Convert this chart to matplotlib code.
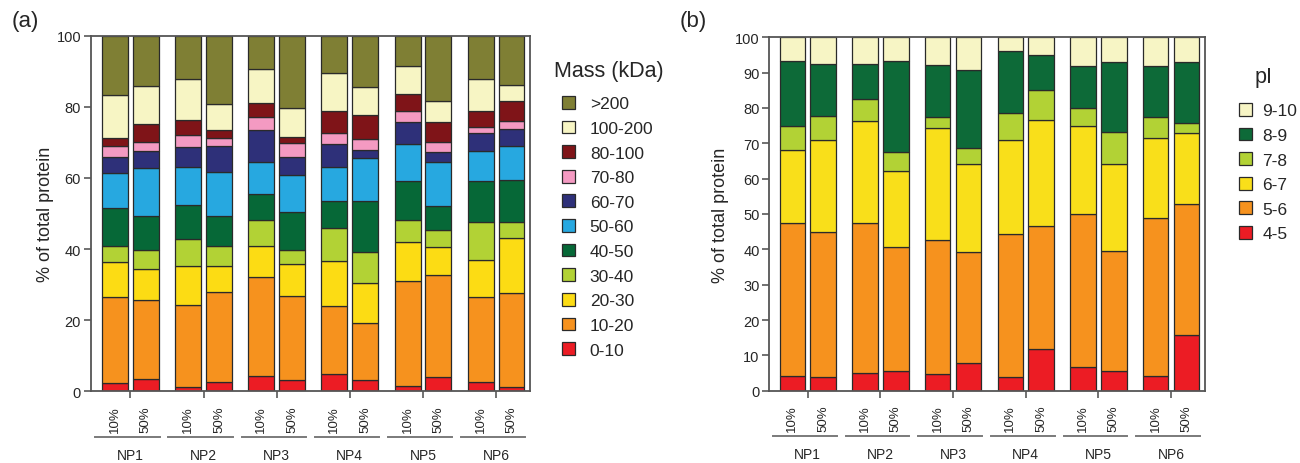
import numpy as np
import matplotlib
matplotlib.use("Agg")
import matplotlib.pyplot as plt
import matplotlib.transforms as mtransforms

plt.rcParams['font.family'] = ['Liberation Sans', 'DejaVu Sans']
txt_col = '#262626'

## DATA
samples = ['NP1', 'NP2', 'NP3', 'NP4', 'NP5', 'NP6']
conc = ['10%', '50%']

# (a) mass fractions, 12 bars: NP1 10%, NP1 50%, NP2 10%, ...
mass_bins = ['0-10', '10-20', '20-30', '30-40', '40-50', '50-60',
             '60-70', '70-80', '80-100', '100-200', '>200']
m_0_10 = [2.2, 3.5, 1.3, 2.7, 4.4, 3.2, 4.9, 3.2, 1.6, 3.9, 2.5, 1.3]
m_10_20 = [24.2, 22.2, 23.1, 25.2, 27.8, 23.7, 19.2, 16.0, 29.5, 28.7, 23.9, 26.3]
m_20_30 = [9.9, 8.7, 10.9, 7.2, 8.8, 8.8, 12.5, 11.2, 11.0, 8.0, 10.5, 15.4]
m_30_40 = [4.6, 5.4, 7.5, 5.9, 7.3, 3.9, 9.3, 8.7, 6.2, 4.9, 10.6, 4.7]
m_40_50 = [10.6, 9.6, 9.6, 8.2, 7.3, 10.7, 7.5, 14.3, 10.9, 6.5, 11.7, 11.6]
m_50_60 = [9.9, 13.3, 10.8, 12.6, 8.8, 10.6, 9.8, 12.2, 10.3, 12.6, 8.5, 9.8]
m_60_70 = [4.5, 4.9, 5.6, 7.3, 9.0, 4.9, 6.3, 2.3, 6.3, 2.6, 4.9, 4.8]
m_70_80 = [3.1, 2.5, 3.2, 2.2, 3.8, 3.9, 3.0, 3.1, 2.9, 3.0, 1.8, 2.1]
m_80_100 = [2.2, 5.0, 4.3, 2.3, 4.0, 1.9, 6.3, 6.6, 4.9, 5.6, 4.5, 5.6]
m_100_200 = [12.1, 10.7, 11.4, 7.2, 9.4, 8.2, 10.7, 8.0, 8.0, 5.7, 8.9, 4.5]
m_200 = [16.7, 14.2, 12.3, 19.2, 9.4, 20.2, 10.5, 14.4, 8.4, 18.5, 12.2, 13.9]
mass_vals = [m_0_10, m_10_20, m_20_30, m_30_40, m_40_50, m_50_60,
             m_60_70, m_70_80, m_80_100, m_100_200, m_200]
mass_cols = ['#ec1c24', '#f6921e', '#fcdc14', '#b2d235', '#066837', '#27a8e0',
             '#2e3079', '#f49ac2', '#7f1418', '#f7f5c4', '#7f7f34']

# (b) pI fractions
pi_bins = ['4-5', '5-6', '6-7', '7-8', '8-9', '9-10']
p_4_5 = [4.2, 4.0, 5.0, 5.5, 4.6, 7.9, 4.0, 11.8, 6.8, 5.5, 4.2, 15.8]
p_5_6 = [43.2, 40.8, 42.5, 35.1, 38.1, 31.3, 40.3, 34.9, 43.2, 33.9, 44.8, 37.1]
p_6_7 = [20.7, 26.2, 28.8, 21.7, 31.5, 25.0, 26.6, 30.0, 25.0, 24.8, 22.4, 19.9]
p_7_8 = [6.9, 6.6, 6.3, 5.2, 3.3, 4.5, 7.6, 8.4, 5.0, 8.9, 6.1, 2.9]
p_8_9 = [18.3, 14.7, 9.9, 25.9, 14.7, 22.1, 17.7, 10.0, 11.8, 19.8, 14.4, 17.2]
p_9_10 = [6.7, 7.7, 7.5, 6.6, 7.8, 9.2, 3.8, 4.9, 8.2, 7.1, 8.1, 7.1]
pi_vals = [p_4_5, p_5_6, p_6_7, p_7_8, p_8_9, p_9_10]
pi_cols = ['#ec1c24', '#f6921e', '#f9df1a', '#b2d235', '#0d6a38', '#f7f5c5']


def stacked_panel(ax, vals, cols, names, yticks, xlim, off, width, lbpad):
    groups = np.arange(len(samples))
    xpos = np.concatenate([[g - off, g + off] for g in groups])
    bottom = np.zeros(len(xpos))
    handles = []
    for v, c, n in zip(vals, cols, names):
        b = ax.bar(xpos, v, width, bottom=bottom, color=c, edgecolor='#2a2a2a',
                   linewidth=0.9, label=n)
        bottom += np.array(v)
        handles.append(b)
    ax.set_ylim(0, 100)
    ax.set_xlim(*xlim)
    ax.set_yticks(yticks)
    ax.tick_params(axis='y', length=5, width=1.1, color='#4a4a4a',
                   labelsize=10.5, labelcolor=txt_col, pad=2)
    # bar labels
    ax.set_xticks(xpos)
    ax.set_xticklabels(conc * len(samples), rotation=90, fontsize=9.5,
                       color=txt_col, va='top')
    ax.tick_params(axis='x', which='major', length=0, pad=10)
    ax.set_xticks(groups, minor=True)
    ax.tick_params(axis='x', which='minor', length=5, width=1.1,
                   color='#4a4a4a')
    for s in ax.spines.values():
        s.set_color('#555555')
        s.set_linewidth(1.3)
    ax.set_ylabel('% of total protein', fontsize=13, color=txt_col,
                  labelpad=lbpad)
    tr = mtransforms.blended_transform_factory(ax.transData, ax.transAxes)
    for g, name in zip(groups, samples):
        ax.plot([g - 0.48, g + 0.40], [-0.128, -0.128], transform=tr,
                color='#7a7a7a', lw=1.4, clip_on=False)
        ax.text(g, -0.18, name, transform=tr, ha='center', va='center',
                fontsize=10, color=txt_col)
    return handles


fig = plt.figure(figsize=(13, 4.64), dpi=100)
ax1 = fig.add_axes([0.0698, 0.1545, 0.3379, 0.7664])
ax2 = fig.add_axes([0.5918, 0.1558, 0.3352, 0.7617])

h1 = stacked_panel(ax1, mass_vals, mass_cols, mass_bins, np.arange(0, 101, 20),
                   (-0.543, 5.464), 0.211, 0.355, 2)
h2 = stacked_panel(ax2, pi_vals, pi_cols, pi_bins, np.arange(0, 101, 10),
                   (-0.528, 5.468), 0.213, 0.35, 4)

leg_kw = dict(loc='upper left', frameon=False, fontsize=12.5,
              handlelength=0.75, handleheight=0.75, labelspacing=0.53,
              borderpad=0, borderaxespad=0)
leg1 = fig.legend(handles=h1[::-1], labels=mass_bins[::-1],
                  bbox_to_anchor=(562 / 1300, 1 - 97 / 464),
                  handletextpad=0.85, **leg_kw)
leg2 = fig.legend(handles=h2[::-1], labels=pi_bins[::-1],
                  bbox_to_anchor=(1239 / 1300, 1 - 104 / 464),
                  handletextpad=0.6, **leg_kw)
for leg in (leg1, leg2):
    for t in leg.get_texts():
        t.set_color(txt_col)

fig.text(609 / 1300, 1 - 72 / 464, 'Mass (kDa)', fontsize=15.5, color=txt_col,
         ha='center', va='center')
fig.text(1264 / 1300, 1 - 77 / 464, 'pI', fontsize=15.5, color=txt_col,
         ha='center', va='center')

fig.text(12 / 1300, 1 - 22 / 464, '(a)', fontsize=16, color=txt_col, va='center')
fig.text(680 / 1300, 1 - 22 / 464, '(b)', fontsize=16, color=txt_col, va='center')

fig.savefig('out.png', dpi=100)
